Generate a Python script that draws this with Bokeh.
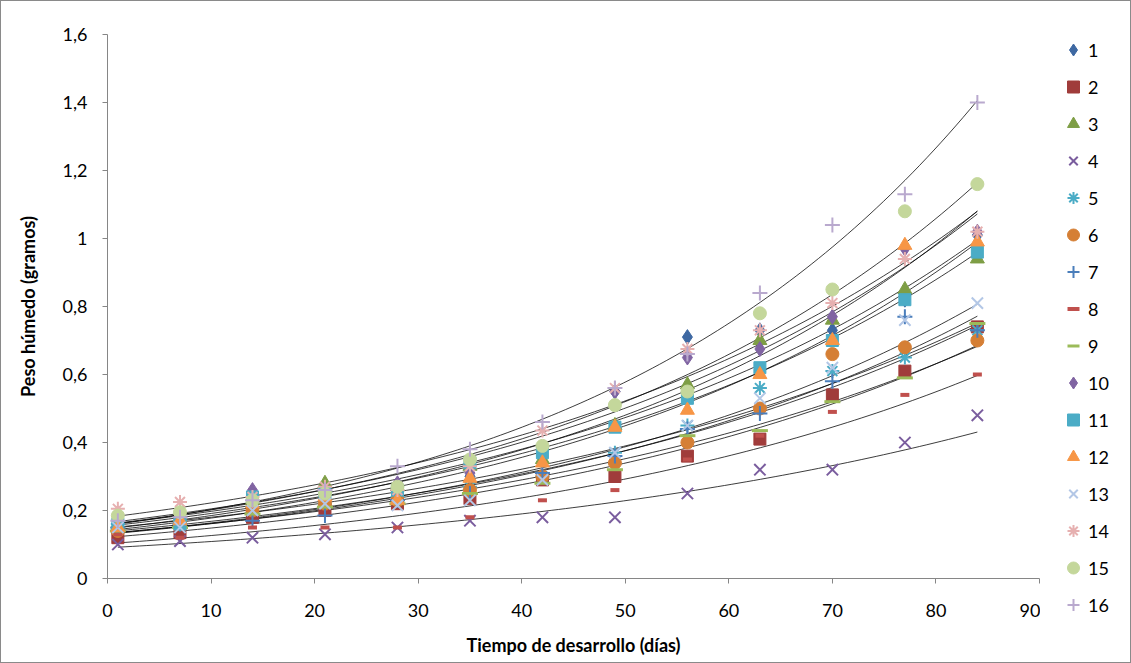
import numpy as np
from bokeh.plotting import figure
from bokeh.layouts import row, column
from bokeh.models import FixedTicker, Legend, LegendItem, Range1d
from bokeh.embed import file_html
from bokeh.resources import INLINE

dias = [1, 7, 14, 21, 28, 35, 42, 49, 56, 63, 70, 77, 84]

s1 = [0.15, 0.17, 0.21, 0.24, 0.26, 0.30, 0.36, 0.55, 0.71, 0.73, 0.73, 0.82, 1.01]
s2 = [0.12, 0.135, 0.18, 0.20, 0.22, 0.235, 0.29, 0.30, 0.36, 0.41, 0.54, 0.61, 0.74]
s3 = [0.16, 0.18, 0.23, 0.28, 0.27, 0.33, 0.35, 0.45, 0.57, 0.70, 0.76, 0.85, 0.94]
s4 = [0.10, 0.11, 0.12, 0.13, 0.15, 0.17, 0.18, 0.18, 0.25, 0.32, 0.32, 0.40, 0.48]
s5 = [0.16, 0.17, 0.21, 0.22, 0.24, 0.27, 0.30, 0.37, 0.45, 0.56, 0.61, 0.65, 0.73]
s6 = [0.14, 0.16, 0.20, 0.22, 0.23, 0.26, 0.30, 0.34, 0.40, 0.50, 0.66, 0.68, 0.70]
s7 = [0.15, 0.16, 0.17, 0.185, 0.23, 0.25, 0.31, 0.36, 0.44, 0.485, 0.58, 0.77, 0.73]
s8 = [0.13, 0.12, 0.15, 0.15, 0.15, 0.18, 0.23, 0.26, 0.35, 0.42, 0.49, 0.54, 0.60]
s9 = [0.14, 0.15, 0.19, 0.21, 0.22, 0.25, 0.28, 0.32, 0.42, 0.435, 0.52, 0.59, 0.75]
s10 = [0.17, 0.19, 0.26, 0.26, 0.28, 0.31, 0.36, 0.55, 0.65, 0.675, 0.77, 0.97, 1.02]
s11 = [0.16, 0.16, 0.24, 0.25, 0.26, 0.34, 0.37, 0.445, 0.53, 0.62, 0.70, 0.82, 0.96]
s12 = [0.15, 0.17, 0.22, 0.24, 0.23, 0.295, 0.34, 0.445, 0.495, 0.60, 0.70, 0.98, 0.99]
s13 = [0.15, 0.15, 0.20, 0.22, 0.215, 0.23, 0.29, 0.37, 0.45, 0.53, 0.62, 0.76, 0.81]
s14 = [0.205, 0.225, 0.24, 0.27, 0.26, 0.33, 0.435, 0.56, 0.675, 0.73, 0.81, 0.94, 1.02]
s15 = [0.185, 0.195, 0.23, 0.25, 0.27, 0.35, 0.39, 0.51, 0.55, 0.78, 0.85, 1.08, 1.16]
s16 = [0.17, 0.18, 0.23, 0.26, 0.33, 0.38, 0.46, 0.56, 0.66, 0.84, 1.04, 1.13, 1.40]

series = [s1, s2, s3, s4, s5, s6, s7, s8, s9, s10, s11, s12, s13, s14, s15, s16]
names = [str(i) for i in range(1, 17)]

y_ticks = [0, 0.2, 0.4, 0.6, 0.8, 1.0, 1.2, 1.4, 1.6]
y_tick_labels = ["0", "0,2", "0,4", "0,6", "0,8", "1", "1,2", "1,4", "1,6"]
x_ticks = [0, 10, 20, 30, 40, 50, 60, 70, 80, 90]

markers = ["diamond", "square", "triangle", "x", "asterisk", "circle", "cross", "dash",
           "dash", "diamond", "square", "triangle", "x", "asterisk", "circle", "cross"]
colors = ["#3E68A2", "#A03C3B", "#7E9E45", "#7A5D9E", "#4BACC6", "#D57F35", "#4A7EBB", "#C0504D",
          "#9BBB59", "#8064A2", "#4BACC6", "#F79646", "#B3C7E6", "#E6B0B0", "#C4D79B", "#B9A9CE"]
sizes = [15, 12, 14, 16, 14, 13, 15, 9, 16, 15, 12, 14, 16, 14, 13, 15]

FONT = "Lato"

p = figure(width=1039, height=661, output_backend="svg", toolbar_location=None,
           x_range=Range1d(0, 90), y_range=Range1d(0, 1.6),
           min_border_left=106, min_border_right=1, min_border_top=33, min_border_bottom=84)
p.outline_line_color = None
p.xgrid.visible = False
p.ygrid.visible = False

for ax in (p.xaxis[0], p.yaxis[0]):
    ax.axis_line_color = "#868686"
    ax.major_tick_line_color = "#868686"
    ax.minor_tick_line_color = None
    ax.major_tick_out = 5
    ax.major_tick_in = 0
    ax.major_label_text_font = FONT
    ax.major_label_text_font_size = "18px"
    ax.major_label_text_color = "#000000"
    ax.axis_label_text_font = FONT
    ax.axis_label_text_font_size = "18px"
    ax.axis_label_text_font_style = "bold"
    ax.axis_label_text_color = "#000000"

p.xaxis.ticker = FixedTicker(ticks=x_ticks)
p.yaxis.ticker = FixedTicker(ticks=y_ticks)
p.yaxis.major_label_overrides = {t: l for t, l in zip(y_ticks, y_tick_labels)}
p.xaxis.axis_label = "Tiempo de desarrollo (días)"
p.yaxis.axis_label = "Peso húmedo (gramos)"
p.xaxis.major_label_standoff = 20
p.yaxis.major_label_standoff = 15
p.xaxis.axis_label_standoff = 14
p.yaxis.axis_label_standoff = 21

xs = np.array(dias, dtype=float)
xfit = np.linspace(xs.min(), xs.max(), 120)

# exponential trendlines (fit in log space, like a spreadsheet)
for ys in series:
    b, lna = np.polyfit(xs, np.log(np.array(ys)), 1)
    p.line(xfit, np.exp(lna + b * xfit), line_color="#000000", line_width=0.9, line_alpha=0.85)

# legend lives in a narrow companion figure to the right; its view range
# is set away from the data so only the legend itself shows there
lg = figure(width=90, height=661, output_backend="svg", toolbar_location=None,
            x_range=Range1d(1000, 1001), y_range=Range1d(1000, 1001),
            min_border_left=0, min_border_right=0, min_border_top=0, min_border_bottom=0)
lg.axis.visible = False
lg.xgrid.visible = False
lg.ygrid.visible = False
lg.outline_line_color = None

def add_marker(fig, xv, yv, mk, col, sz):
    if mk in ("x", "cross", "asterisk"):
        return fig.scatter(xv, yv, marker=mk, size=sz, line_color=col, line_width=2, fill_color=None)
    if mk == "dash":
        return fig.scatter(xv, yv, marker=mk, size=sz, line_color=col, line_width=4 if sz < 12 else 3)
    return fig.scatter(xv, yv, marker=mk, size=sz, fill_color=col, line_color=col, line_width=1)

items = []
for name, ys, mk, col, sz in zip(names, series, markers, colors, sizes):
    add_marker(p, dias, ys, mk, col, sz)
    r = add_marker(lg, dias, ys, mk, col, sz)
    items.append(LegendItem(label=name, renderers=[r]))

legend = Legend(items=items, location=(18, 40), orientation="vertical",
                label_text_font=FONT, label_text_font_size="18px", label_text_color="#000000",
                glyph_width=30, glyph_height=35, label_height=35, spacing=2,
                label_standoff=0, padding=4, margin=0,
                background_fill_alpha=0, border_line_color=None)
lg.add_layout(legend, "center")

layout = row(p, column(lg), styles={"border": "1px solid #8a8a8a"})

open("out.html", "w").write(file_html(layout, INLINE))
